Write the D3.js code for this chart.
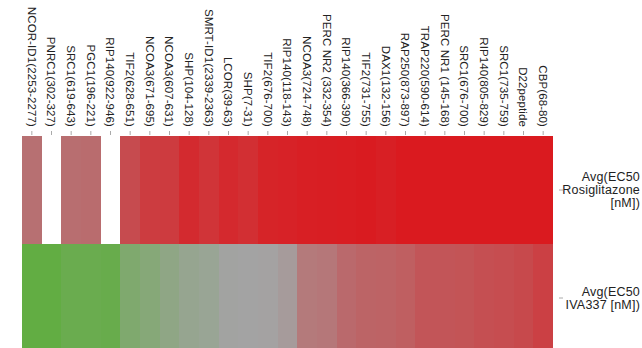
<!DOCTYPE html>
<html>
<head>
<meta charset="utf-8">
<script src="https://cdn.jsdelivr.net/npm/d3@7"></script>
<style>
  html, body { margin: 0; padding: 0; background: #fff; }
  svg { display: block; font-family: "Liberation Sans", Arial, sans-serif; }
</style>
</head>
<body>
<svg id="chart" width="642" height="348"></svg>
<script>
// Peptides probed (columns)
const peptides = [
  "NCOR-ID1(2253-2277)", "PNRC1(302-327)", "SRC1(619-643)", "PGC1(196-221)",
  "RIP140(922-946)", "TIF2(628-651)", "NCOA3(671-695)", "NCOA3(607-631)",
  "SHP(104-128)", "SMRT-ID1(2339-2363)", "LCOR(39-63)", "SHP(7-31)",
  "TIF2(676-700)", "RIP140(118-143)", "NCOA3(724-748)", "PERC NR2 (332-354)",
  "RIP140(366-390)", "TIF2(731-755)", "DAX1(132-156)", "RAP250(873-897)",
  "TRAP220(590-614)", "PERC NR1 (145-168)", "SRC1(676-700)", "RIP140(805-829)",
  "SRC1(735-759)", "D22peptide", "CBP(68-80)"
];

// Row labels (each entry is split into lines)
const rowNames = ["Rosiglitazone", "IVA337"];
const rowLabels = [
  ["Avg(EC50", "Rosiglitazone", "[nM])"],
  ["Avg(EC50", "IVA337 [nM])"]
];

// Relative scores per peptide, -1 (green) .. 0 (grey) .. 1 (red); null = no value
const rosiglitazone = [
  0.37, null, 0.39, 0.40, null, 0.64, 0.75, 0.76, 0.88, 0.81, 0.89, 0.85, 0.93, 0.94,
  0.96, 0.97, 0.98, 0.99, 0.96, 1.0, 1.0, 1.0, 1.0, 1.0, 1.0, 1.0, 1.0
];
const iva337 = [
  -1.0, -1.0, -0.88, -0.88, -0.91, -0.55, -0.45, -0.31, -0.2, -0.15, -0.02, 0.0, 0.01, 0.06,
  0.30, 0.32, 0.42, 0.46, 0.47, 0.50, 0.57, 0.57, 0.58, 0.61, 0.63, 0.66, 0.72
];

const series = [rosiglitazone, iva337];

const svg = d3.select("#chart");
const plotLeft = 22, plotRight = 553, plotTop = 136, rowH = 108;

const x = d3.scaleBand().domain(peptides).range([plotLeft, plotRight]).padding(0);
const y = d3.scaleBand().domain(rowNames).range([plotTop, plotTop + rowH * rowNames.length]).padding(0);

const color = d3.scaleLinear()
  .domain([-1, 0, 1])
  .range(["#62ad43", "#a3a3a3", "#da1a1f"])
  .interpolate(d3.interpolateRgb)
  .clamp(true);

// Cells
const cells = [];
series.forEach((vals, r) => {
  vals.forEach((v, c) => {
    if (v !== null) cells.push({ row: rowNames[r], col: peptides[c], v });
  });
});

svg.append("g")
  .selectAll("rect")
  .data(cells)
  .join("rect")
  .attr("x", d => x(d.col))
  .attr("y", d => y(d.row))
  .attr("width", x.bandwidth())
  .attr("height", y.bandwidth())
  .attr("fill", d => color(d.v))
  .attr("shape-rendering", "crispEdges");

// Column axis along the top, labels rotated to read downward
const xAxis = svg.append("g")
  .attr("transform", `translate(0,${plotTop - 1})`)
  .call(d3.axisTop(x).tickSize(4).tickSizeOuter(0));
xAxis.select(".domain").remove();
xAxis.selectAll(".tick line").attr("stroke", "#aaa");
xAxis.selectAll(".tick text")
  .attr("transform", "rotate(90)")
  .attr("x", -8)
  .attr("y", 0)
  .attr("dy", "0.35em")
  .attr("text-anchor", "end")
  .attr("fill", "#222")
  .style("font-size", "11.5px")
  .style("letter-spacing", "0.1px")
  .style("font-family", "'Liberation Sans', Arial, sans-serif");

// Row axis on the right
const yAxis = svg.append("g")
  .attr("transform", `translate(${plotRight + 6},0)`)
  .call(d3.axisRight(y).tickSize(4).tickSizeOuter(0).tickFormat(""));
yAxis.select(".domain").remove();
yAxis.selectAll(".tick line").attr("stroke", "#aaa");

const lineH = 13;
svg.append("g")
  .selectAll("text")
  .data(rowNames)
  .join("text")
  .attr("text-anchor", "end")
  .attr("fill", "#222")
  .style("font-size", "12.5px")
  .style("letter-spacing", "0.2px")
  .each(function (d, i) {
    const lines = rowLabels[i];
    const cy = y(d) + y.bandwidth() / 2;
    d3.select(this).selectAll("tspan")
      .data(lines)
      .join("tspan")
      .attr("x", 640)
      .attr("y", (l, k) => cy + (k - (lines.length - 1) / 2) * lineH)
      .attr("dy", "0.35em")
      .text(l => l);
  });
</script>
</body>
</html>
